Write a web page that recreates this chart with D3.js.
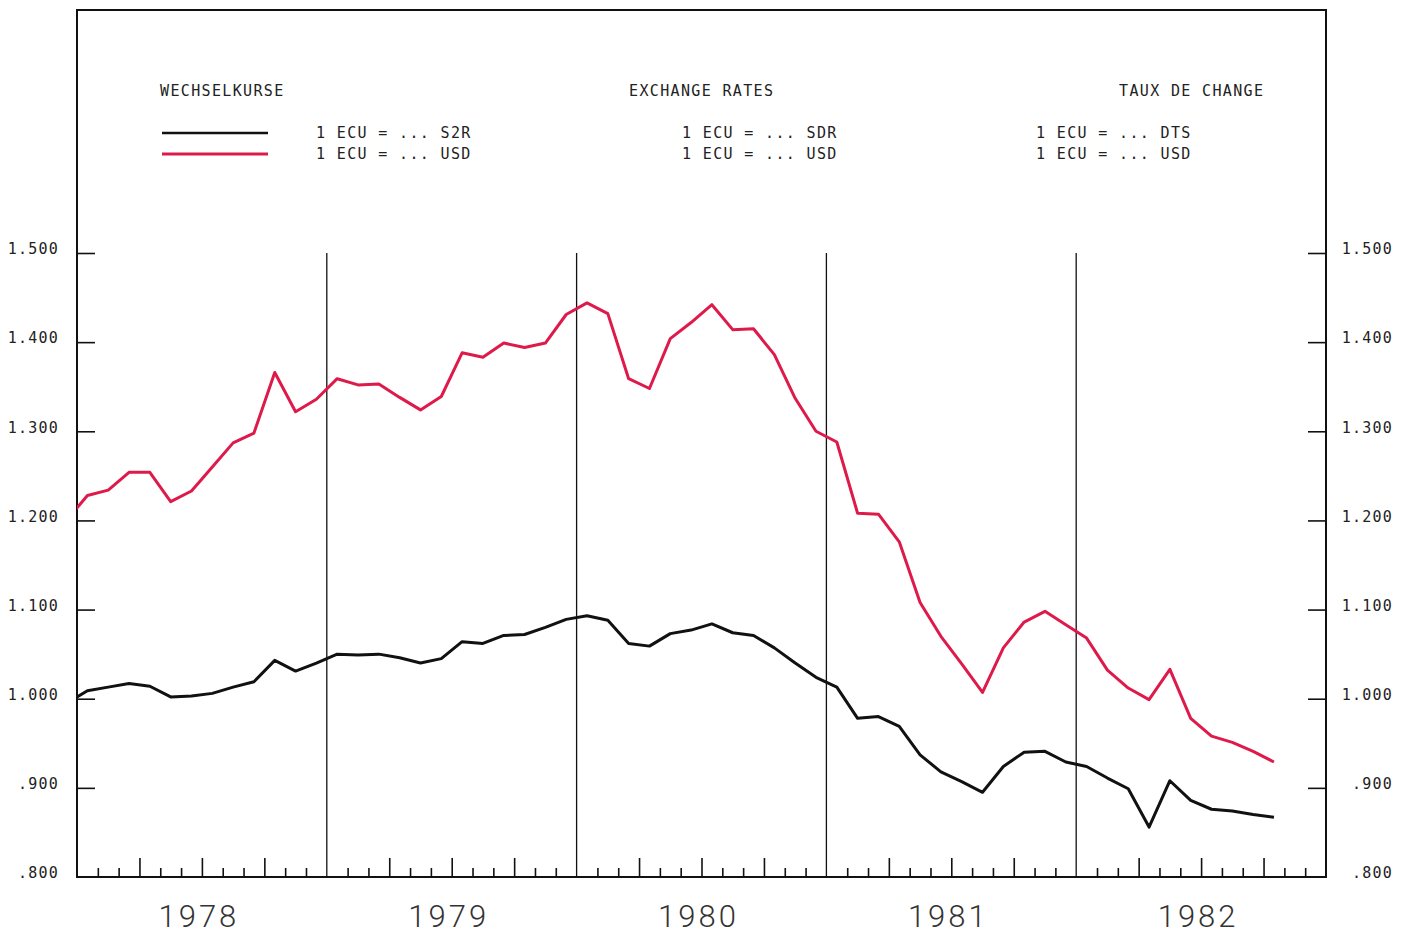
<!DOCTYPE html>
<html>
<head>
<meta charset="utf-8">
<script src="https://cdn.jsdelivr.net/npm/d3@7"></script>
<style>
  html, body { margin: 0; padding: 0; background: #ffffff; }
  svg { display: block; }
  .plot-text { font-family: "DejaVu Sans Mono", "Liberation Mono", monospace; fill: #222; }
</style>
</head>
<body>
<svg id="chart" width="1410" height="935"></svg>
<script>
// ---- Data (monthly averages, Dec 1977 .. Oct 1982) ----
const months = [
  "1977-12",
  "1978-01","1978-02","1978-03","1978-04","1978-05","1978-06","1978-07","1978-08","1978-09","1978-10","1978-11","1978-12",
  "1979-01","1979-02","1979-03","1979-04","1979-05","1979-06","1979-07","1979-08","1979-09","1979-10","1979-11","1979-12",
  "1980-01","1980-02","1980-03","1980-04","1980-05","1980-06","1980-07","1980-08","1980-09","1980-10","1980-11","1980-12",
  "1981-01","1981-02","1981-03","1981-04","1981-05","1981-06","1981-07","1981-08","1981-09","1981-10","1981-11","1981-12",
  "1982-01","1982-02","1982-03","1982-04","1982-05","1982-06","1982-07","1982-08","1982-09","1982-10"
];
const ecuSDR = [
  0.995,
  1.009,1.013,1.017,1.014,1.002,1.003,1.006,1.013,1.019,1.043,1.031,1.040,
  1.050,1.049,1.050,1.046,1.040,1.045,1.064,1.062,1.071,1.072,1.080,1.089,
  1.093,1.088,1.062,1.059,1.073,1.077,1.084,1.074,1.071,1.057,1.040,1.024,
  1.013,0.978,0.980,0.969,0.937,0.918,0.907,0.895,0.924,0.940,0.941,0.929,
  0.924,0.911,0.899,0.856,0.908,0.886,0.876,0.874,0.870,0.867
];
const ecuUSD = [
  1.200,
  1.228,1.234,1.254,1.254,1.221,1.233,1.260,1.287,1.298,1.366,1.322,1.336,
  1.359,1.352,1.353,1.338,1.324,1.339,1.388,1.383,1.399,1.394,1.399,1.431,
  1.444,1.432,1.359,1.348,1.404,1.422,1.442,1.414,1.415,1.386,1.337,1.300,
  1.288,1.208,1.207,1.176,1.108,1.070,1.039,1.007,1.057,1.086,1.098,1.083,
  1.068,1.032,1.012,0.999,1.033,0.978,0.958,0.951,0.941,0.929
];
const years = [1978, 1979, 1980, 1981, 1982];
const yTicks = [0.8, 0.9, 1.0, 1.1, 1.2, 1.3, 1.4, 1.5];
const headers = ["WECHSELKURSE", "EXCHANGE RATES", "TAUX DE CHANGE"];
const legendSDR = ["1 ECU = ... S2R", "1 ECU = ... SDR", "1 ECU = ... DTS"];
const legendUSD = ["1 ECU = ... USD", "1 ECU = ... USD", "1 ECU = ... USD"];

(function () {
// ---- Layout ----
const svg = d3.select("#chart");
const pL = 77, pR = 1326, pT = 10, pB = 877;
const startYear = years[0];
const monthIndex = s => {
  const [yy, m] = s.split("-").map(Number);
  return (yy - startYear) * 12 + (m - 1) + 0.5;
};
const x = d3.scaleLinear().domain([0, years.length * 12]).range([pL, pR]);
const y = d3.scaleLinear().domain([0.8, 1.5]).range([pB, 253]);

const RED = "#de1a4a";

svg.append("defs").append("clipPath").attr("id", "plotclip")
  .append("rect").attr("x", pL).attr("y", pT).attr("width", pR - pL).attr("height", pB - pT);

// Year separator lines
svg.append("g").selectAll("line").data(years.slice(1)).join("line")
  .attr("x1", (d, i) => x((i + 1) * 12)).attr("x2", (d, i) => x((i + 1) * 12))
  .attr("y1", y(1.5)).attr("y2", pB)
  .attr("stroke", "#111").attr("stroke-width", 1.3);

// Y axes
const fmt = d => {
  const s = d3.format(".3f")(d);
  return s.startsWith("0") ? s.slice(1) : s;
};
const yLeft = svg.append("g").attr("transform", `translate(${pL},0)`)
  .call(d3.axisLeft(y).tickValues(yTicks).tickFormat(fmt).tickSize(-18).tickPadding(18));
const yRight = svg.append("g").attr("transform", `translate(${pR},0)`)
  .call(d3.axisRight(y).tickValues(yTicks).tickFormat(fmt).tickSize(-18).tickPadding(67));
[yLeft, yRight].forEach(g => {
  g.select(".domain").remove();
  g.selectAll(".tick line").attr("stroke", "#111").attr("stroke-width", 1.6);
  g.selectAll(".tick text")
    .attr("class", "plot-text")
    .attr("dy", "0.05em")
    .style("font-size", "15px").style("letter-spacing", "1.2px")
    .attr("fill", "#222");
});
yLeft.selectAll(".tick").filter(d => d === 0.8).select("line").remove();
yRight.selectAll(".tick").filter(d => d === 0.8).select("line").remove();
yRight.selectAll(".tick text").attr("text-anchor", "end");

// Month ticks on x-axis (pointing up)
const allMonths = d3.range(1, years.length * 12).filter(m => m % 12 !== 0);
const quarterMonths = allMonths.filter(m => m % 3 === 0);
const minorMonths = allMonths.filter(m => m % 3 !== 0);
const xMinor = svg.append("g").attr("transform", `translate(0,${pB})`)
  .call(d3.axisBottom(x).tickValues(minorMonths).tickSize(-9).tickFormat(""));
const xMajor = svg.append("g").attr("transform", `translate(0,${pB})`)
  .call(d3.axisBottom(x).tickValues(quarterMonths).tickSize(-19).tickFormat(""));
[xMinor, xMajor].forEach(g => {
  g.select(".domain").remove();
  g.selectAll(".tick line").attr("stroke", "#111").attr("stroke-width", 1.6);
});

// Frame
svg.append("rect").attr("x", pL).attr("y", pT).attr("width", pR - pL).attr("height", pB - pT)
  .attr("fill", "none").attr("stroke", "#111").attr("stroke-width", 2);

// Year labels
svg.append("g").selectAll("text").data(years).join("text")
  .attr("x", (d, i) => x(i * 12 + 6) - 3)
  .attr("y", 927)
  .attr("text-anchor", "middle")
  .attr("font-family", "Roboto, 'DejaVu Sans', sans-serif")
  .attr("font-weight", 300)
  .attr("font-size", 31)
  .attr("letter-spacing", "3px")
  .attr("fill", "#333")
  .text(d => d);

// Data lines
const line = d3.line().x((d, i) => x(monthIndex(months[i]))).y(d => y(d));
const lines = svg.append("g").attr("clip-path", "url(#plotclip)");
lines.append("path").datum(ecuSDR).attr("d", line)
  .attr("fill", "none").attr("stroke", "#111").attr("stroke-width", 3)
  .attr("stroke-linejoin", "round");
lines.append("path").datum(ecuUSD).attr("d", line)
  .attr("fill", "none").attr("stroke", RED).attr("stroke-width", 3)
  .attr("stroke-linejoin", "round");

// Headers & legend
const headerX = [160, 629, 1119];
const legendX = [316, 682, 1036];
const tg = svg.append("g");
headers.forEach((h, i) => {
  tg.append("text").attr("class", "plot-text").attr("x", headerX[i]).attr("y", 96)
    .style("font-size", "15px").style("letter-spacing", "1.35px").text(h);
  tg.append("text").attr("class", "plot-text").attr("x", legendX[i]).attr("y", 138)
    .style("font-size", "15px").style("letter-spacing", "1.35px").text(legendSDR[i]);
  tg.append("text").attr("class", "plot-text").attr("x", legendX[i]).attr("y", 159)
    .style("font-size", "15px").style("letter-spacing", "1.35px").text(legendUSD[i]);
});
tg.append("line").attr("x1", 162).attr("x2", 268).attr("y1", 133).attr("y2", 133)
  .attr("stroke", "#111").attr("stroke-width", 2.5);
tg.append("line").attr("x1", 162).attr("x2", 268).attr("y1", 154).attr("y2", 154)
  .attr("stroke", RED).attr("stroke-width", 3);
})();
</script>
</body>
</html>
